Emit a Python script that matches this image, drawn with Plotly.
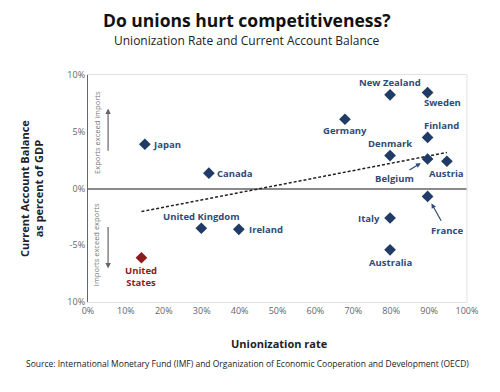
import numpy as np
import plotly.graph_objects as go

countries = ["Japan", "Canada", "United Kingdom", "Ireland", "United States",
             "New Zealand", "Sweden", "Germany", "Finland", "Denmark",
             "Belgium", "Austria", "France", "Italy", "Australia"]
union_rate = [15.0, 31.9, 29.9, 39.8, 14.1,
              79.7, 89.6, 67.8, 89.6, 79.7,
              89.6, 94.7, 89.6, 79.7, 79.7]
current_account = [3.9, 1.35, -3.5, -3.6, -6.1,
                   8.25, 8.45, 6.1, 4.5, 2.9,
                   2.6, 2.4, -0.7, -2.6, -5.4]
label_names = ["Japan", "Canada", "United Kingdom", "Ireland", "United<br>States",
               "New Zealand", "Sweden", "Germany", "Finland", "Denmark",
               "Belgium", "Austria", "France", "Italy", "Australia"]
x_tickvals = [0, 10, 20, 30, 40, 50, 60, 70, 80, 90, 100]
x_ticktext = ["0%", "10%", "20%", "30%", "40%", "50%", "60%", "70%", "80%", "90%", "100%"]
y_tickvals = [-10, -5, 0, 5, 10]
y_ticktext = ["10%", "-5%", "0%", "5%", "10%"]

BLUE = "#1f3b66"
LBL = "#2f4b78"
RED = "#8b1c1c"
FONT = "Open Sans"

colors = [RED if c == "United States" else BLUE for c in countries]

# label offsets in pixels (xshift, yshift) and anchors
label_style = {
    "Japan": (6, 0, "left", "middle"),
    "Canada": (6, 0, "left", "middle"),
    "United Kingdom": (0, 12, "center", "middle"),
    "Ireland": (8, 0, "left", "middle"),
    "United States": (0, -19, "center", "middle"),
    "New Zealand": (0, 12, "center", "middle"),
    "Sweden": (15, -10, "center", "middle"),
    "Germany": (0, -11, "center", "middle"),
    "Finland": (14, 12, "center", "middle"),
    "Denmark": (0, 12, "center", "middle"),
    "Austria": (0, -12, "center", "middle"),
    "Italy": (-8, 0, "right", "middle"),
    "Australia": (0, -13, "center", "middle"),
}
arrow_style = {"Belgium": (-33, 20), "France": (19, 34)}

fig = go.Figure()

# trend line (least squares fit)
slope, intercept = np.polyfit(union_rate, current_account, 1)
xs = np.array([min(union_rate), max(union_rate)])
fig.add_trace(go.Scatter(x=xs, y=slope * xs + intercept, mode="lines",
                         line=dict(color="#222", width=1.5, dash="3px,2px"),
                         hoverinfo="skip", showlegend=False))

fig.add_trace(go.Scatter(x=union_rate, y=current_account, mode="markers",
                         marker=dict(symbol="diamond", size=9, color=colors),
                         text=countries, showlegend=False))

annotations = []
for c, lab, x, y, col in zip(countries, label_names, union_rate, current_account, colors):
    tcol = RED if c == "United States" else LBL
    if c in label_style:
        dx, dy, xa, ya = label_style[c]
        annotations.append(dict(x=x, y=y, xref="x", yref="y", text="<b>" + lab + "</b>",
                                showarrow=False, xshift=dx, yshift=dy, xanchor=xa, yanchor=ya,
                                font=dict(family=FONT, size=9.5, color=tcol)))
    else:
        ax, ay = arrow_style[c]
        annotations.append(dict(x=x, y=y, xref="x", yref="y", text="<b>" + lab + "</b>",
                                showarrow=True, ax=ax, ay=ay, arrowhead=2, arrowsize=0.8,
                                arrowwidth=1.2, arrowcolor=LBL, standoff=8, startstandoff=2,
                                font=dict(family=FONT, size=9.5, color=tcol)))

# direction hints
annotations += [
    dict(x=2.3, y=4.96, xref="x", yref="y", text="Exports exceed imports", textangle=-90,
         showarrow=False, font=dict(family=FONT, size=7.5, color="#777")),
    dict(x=2.3, y=-4.93, xref="x", yref="y", text="Imports exceed exports", textangle=-90,
         showarrow=False, font=dict(family=FONT, size=7.5, color="#777")),
    dict(x=5.3, y=7.05, ax=5.3, ay=3.2, xref="x", yref="y", axref="x", ayref="y", text="",
         showarrow=True, arrowhead=2, arrowsize=0.9, arrowwidth=1.2, arrowcolor="#666"),
    dict(x=5.3, y=-7.05, ax=5.3, ay=-3.26, xref="x", yref="y", axref="x", ayref="y", text="",
         showarrow=True, arrowhead=2, arrowsize=0.9, arrowwidth=1.2, arrowcolor="#666"),
]

# titles
annotations += [
    dict(x=0.419, y=1.242, xref="paper", yref="paper", text="<b>Do unions hurt competitiveness?</b>",
         showarrow=False, yanchor="middle", font=dict(family=FONT, size=17.5, color="#111")),
    dict(x=0.419, y=1.151, xref="paper", yref="paper", text="Unionization Rate and Current Account Balance",
         showarrow=False, yanchor="middle", font=dict(family=FONT, size=12, color="#222")),
    dict(x=0.504, y=-0.181, xref="paper", yref="paper", text="<b>Unionization rate</b>",
         showarrow=False, yanchor="middle", font=dict(family=FONT, size=11, color="#222")),
    dict(x=0.421, y=-0.269, xref="paper", yref="paper",
         text="Source: International Monetary Fund (IMF) and Organization of Economic Cooperation and Development (OECD)",
         showarrow=False, yanchor="middle", font=dict(family=FONT, size=8.5, color="#222")),
    dict(x=-0.149, y=0.5, xref="paper", yref="paper", text="<b>Current Account Balance<br>as percent of GDP</b>",
         textangle=-90, showarrow=False, xanchor="center", yanchor="middle",
         font=dict(family=FONT, size=11, color="#222")),
]

fig.update_layout(
    width=492, height=384,
    margin=dict(l=80, r=33, t=67, b=90),
    plot_bgcolor="white", paper_bgcolor="white",
    annotations=annotations,
    shapes=[dict(type="line", xref="paper", yref="paper", x0=1, x1=1, y0=0, y1=1,
                 line=dict(color="#e2e2e2", width=1))],
    xaxis=dict(range=[0, 100], tickvals=x_tickvals, ticktext=x_ticktext, showgrid=False,
               zeroline=False, showline=True, linecolor="#e2e2e2", mirror=True, ticks="",
               tickfont=dict(family=FONT, size=9, color="#666")),
    yaxis=dict(range=[-10, 10], tickvals=y_tickvals, ticktext=y_ticktext, showgrid=False,
               zeroline=True, zerolinecolor="#8a8a8a", zerolinewidth=1.5,
               showline=True, linecolor="#666", linewidth=1.2, ticks="",
               tickfont=dict(family=FONT, size=9, color="#666")),
)

fig.write_html("out.html")
